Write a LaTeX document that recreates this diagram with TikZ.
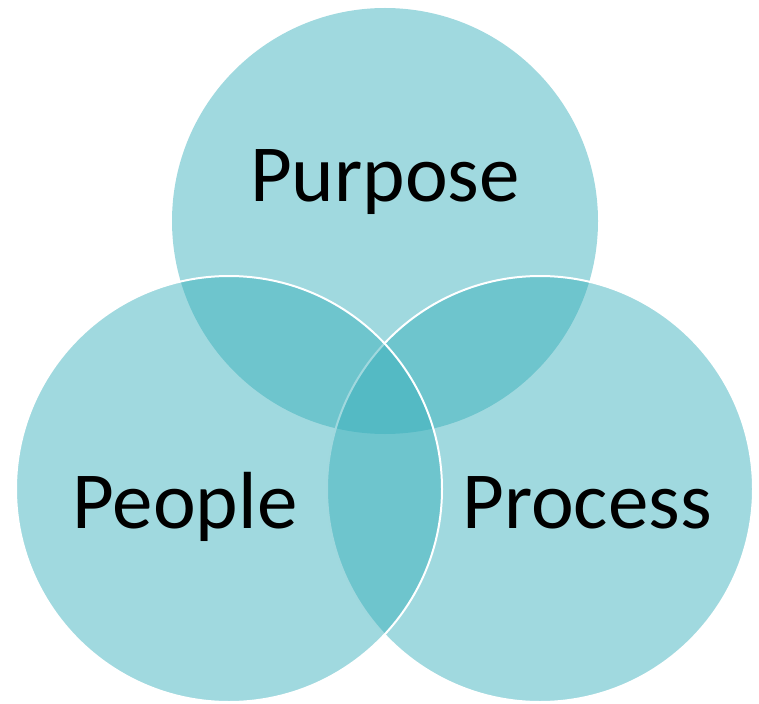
\documentclass[tikz,border=0pt]{standalone}
\usepackage{fontspec}
\setmainfont{Carlito}
\definecolor{venn}{RGB}{54,174,186}

\tikzstyle{set}=[circle, minimum size=426pt, inner sep=0pt, fill=venn, fill opacity=0.47]
\tikzstyle{rim}=[draw=white, line width=2pt]
\tikzstyle{word}=[font=\fontsize{81}{97}\selectfont, text=black, inner sep=0pt]

\begin{document}
\begin{tikzpicture}[x=1pt, y=-1pt]
      \useasboundingbox (0, 0) rectangle (759, 703);
      \node[set] (purpose) at (385, 221) {};
      \node[set, rim] (process) at (540, 489) {};
      \node[set, rim] (people) at (229, 489) {};

      \node[word, anchor=base] (tpurpose) at (385, 202) {Purpose};
      \node[word, anchor=base] (tpeople) at (185, 528) {People};
      \node[word, anchor=base] (tprocess) at (587, 528) {Process};
    \end{tikzpicture}
\end{document}
